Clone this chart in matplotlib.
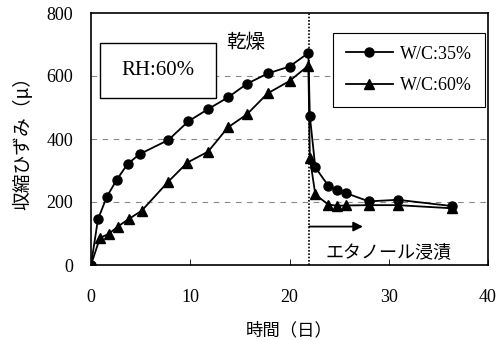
import matplotlib

matplotlib.use("Agg")
import matplotlib.pyplot as plt
from matplotlib.patches import Rectangle

SERIF = ["Liberation Serif", "DejaVu Serif"]
JP = ["Noto Sans CJK JP", "DejaVu Sans"]

# W/C:35% series (days, shrinkage strain)
days_35 = [0, 0.7, 1.6, 2.6, 3.7, 4.9, 7.8, 9.8, 11.8, 13.8, 15.7, 17.8, 20.0, 21.9,
           22.05, 22.6, 23.9, 24.8, 25.7, 28.0, 30.9, 36.4]
strain_35 = [0, 145, 217, 271, 321, 352, 397, 456, 495, 532, 575, 608, 630, 673,
             473, 310, 252, 238, 228, 202, 207, 187]

# W/C:60% series
days_60 = [0, 0.9, 1.8, 2.7, 3.8, 5.1, 7.8, 9.7, 11.8, 13.8, 15.7, 17.8, 20.0, 21.9,
           22.05, 22.6, 23.9, 24.8, 25.7, 28.0, 30.9, 36.4]
strain_60 = [0, 86, 99, 122, 146, 172, 265, 325, 360, 437, 478, 545, 584, 633,
             340, 224, 192, 188, 189, 190, 190, 180]

x_ticks = [0, 10, 20, 30, 40]
y_ticks = [0, 200, 400, 600, 800]
switch_day = 22
arrow_end_day = 27.4
arrow_level = 122

fig = plt.figure(figsize=(5.03, 3.40), dpi=100)
ax = fig.add_axes([91 / 503, 75 / 340, 397 / 503, 252 / 340])

ax.set_xlim(0, 40)
ax.set_ylim(0, 800)
ax.set_xticks(x_ticks)
ax.set_yticks(y_ticks)
ax.set_xticklabels([str(v) for v in x_ticks], fontfamily=SERIF, fontsize=13)
ax.set_yticklabels([str(v) for v in y_ticks], fontfamily=SERIF, fontsize=13)
ax.tick_params(axis="x", direction="in", length=4, width=0.6, pad=17)
ax.tick_params(axis="y", length=0, pad=13)
for spine in ax.spines.values():
    spine.set_linewidth(1.2)

for level in y_ticks[1:-1]:
    ax.axhline(level, color="#888888", linestyle=(0, (5, 5)), linewidth=0.8, zorder=0)

ax.axvline(switch_day, color="black", linestyle=(0, (1, 1)), linewidth=1.2, zorder=1)

ax.plot(days_35, strain_35, color="black", linewidth=1.3, marker="o",
        markersize=6.5, label="W/C:35%", zorder=3)
ax.plot(days_60, strain_60, color="black", linewidth=1.3, marker="^",
        markersize=7.5, label="W/C:60%", zorder=3)

legend = ax.legend(loc="upper right", bbox_to_anchor=(0.992, 0.921), borderaxespad=0,
                   frameon=True, fancybox=False, edgecolor="black", framealpha=1,
                   prop={"family": SERIF, "size": 13}, handlelength=2.6,
                   borderpad=0.7, labelspacing=0.8, handletextpad=0.4)
legend.get_frame().set_linewidth(0.8)

ax.add_patch(Rectangle((0.023, 0.663), 0.292, 0.218, transform=ax.transAxes,
                       facecolor="white", edgecolor="black", linewidth=1.0, zorder=4))
ax.text(0.169, 0.772, "RH:60%", transform=ax.transAxes, ha="center", va="center",
        fontfamily=SERIF, fontsize=15, zorder=5)

ax.text(15.6, 705, "乾燥", ha="center", va="center", fontfamily=JP, fontsize=14)
ax.annotate("", xy=(arrow_end_day, arrow_level), xytext=(switch_day, arrow_level),
            arrowprops=dict(arrowstyle="-|>", color="black", lw=1.3,
                            mutation_scale=14, shrinkA=0, shrinkB=0))
ax.text(30.0, 42, "エタノール浸漬", ha="center", va="center", fontfamily=JP, fontsize=13)

ax.set_xlabel("時間（日）", fontfamily=JP, fontsize=12.5, labelpad=11)
ax.set_ylabel("収縮ひずみ（μ）", fontfamily=JP, fontsize=13.5, labelpad=9)

fig.savefig("out.png", dpi=100)
plt.close(fig)
